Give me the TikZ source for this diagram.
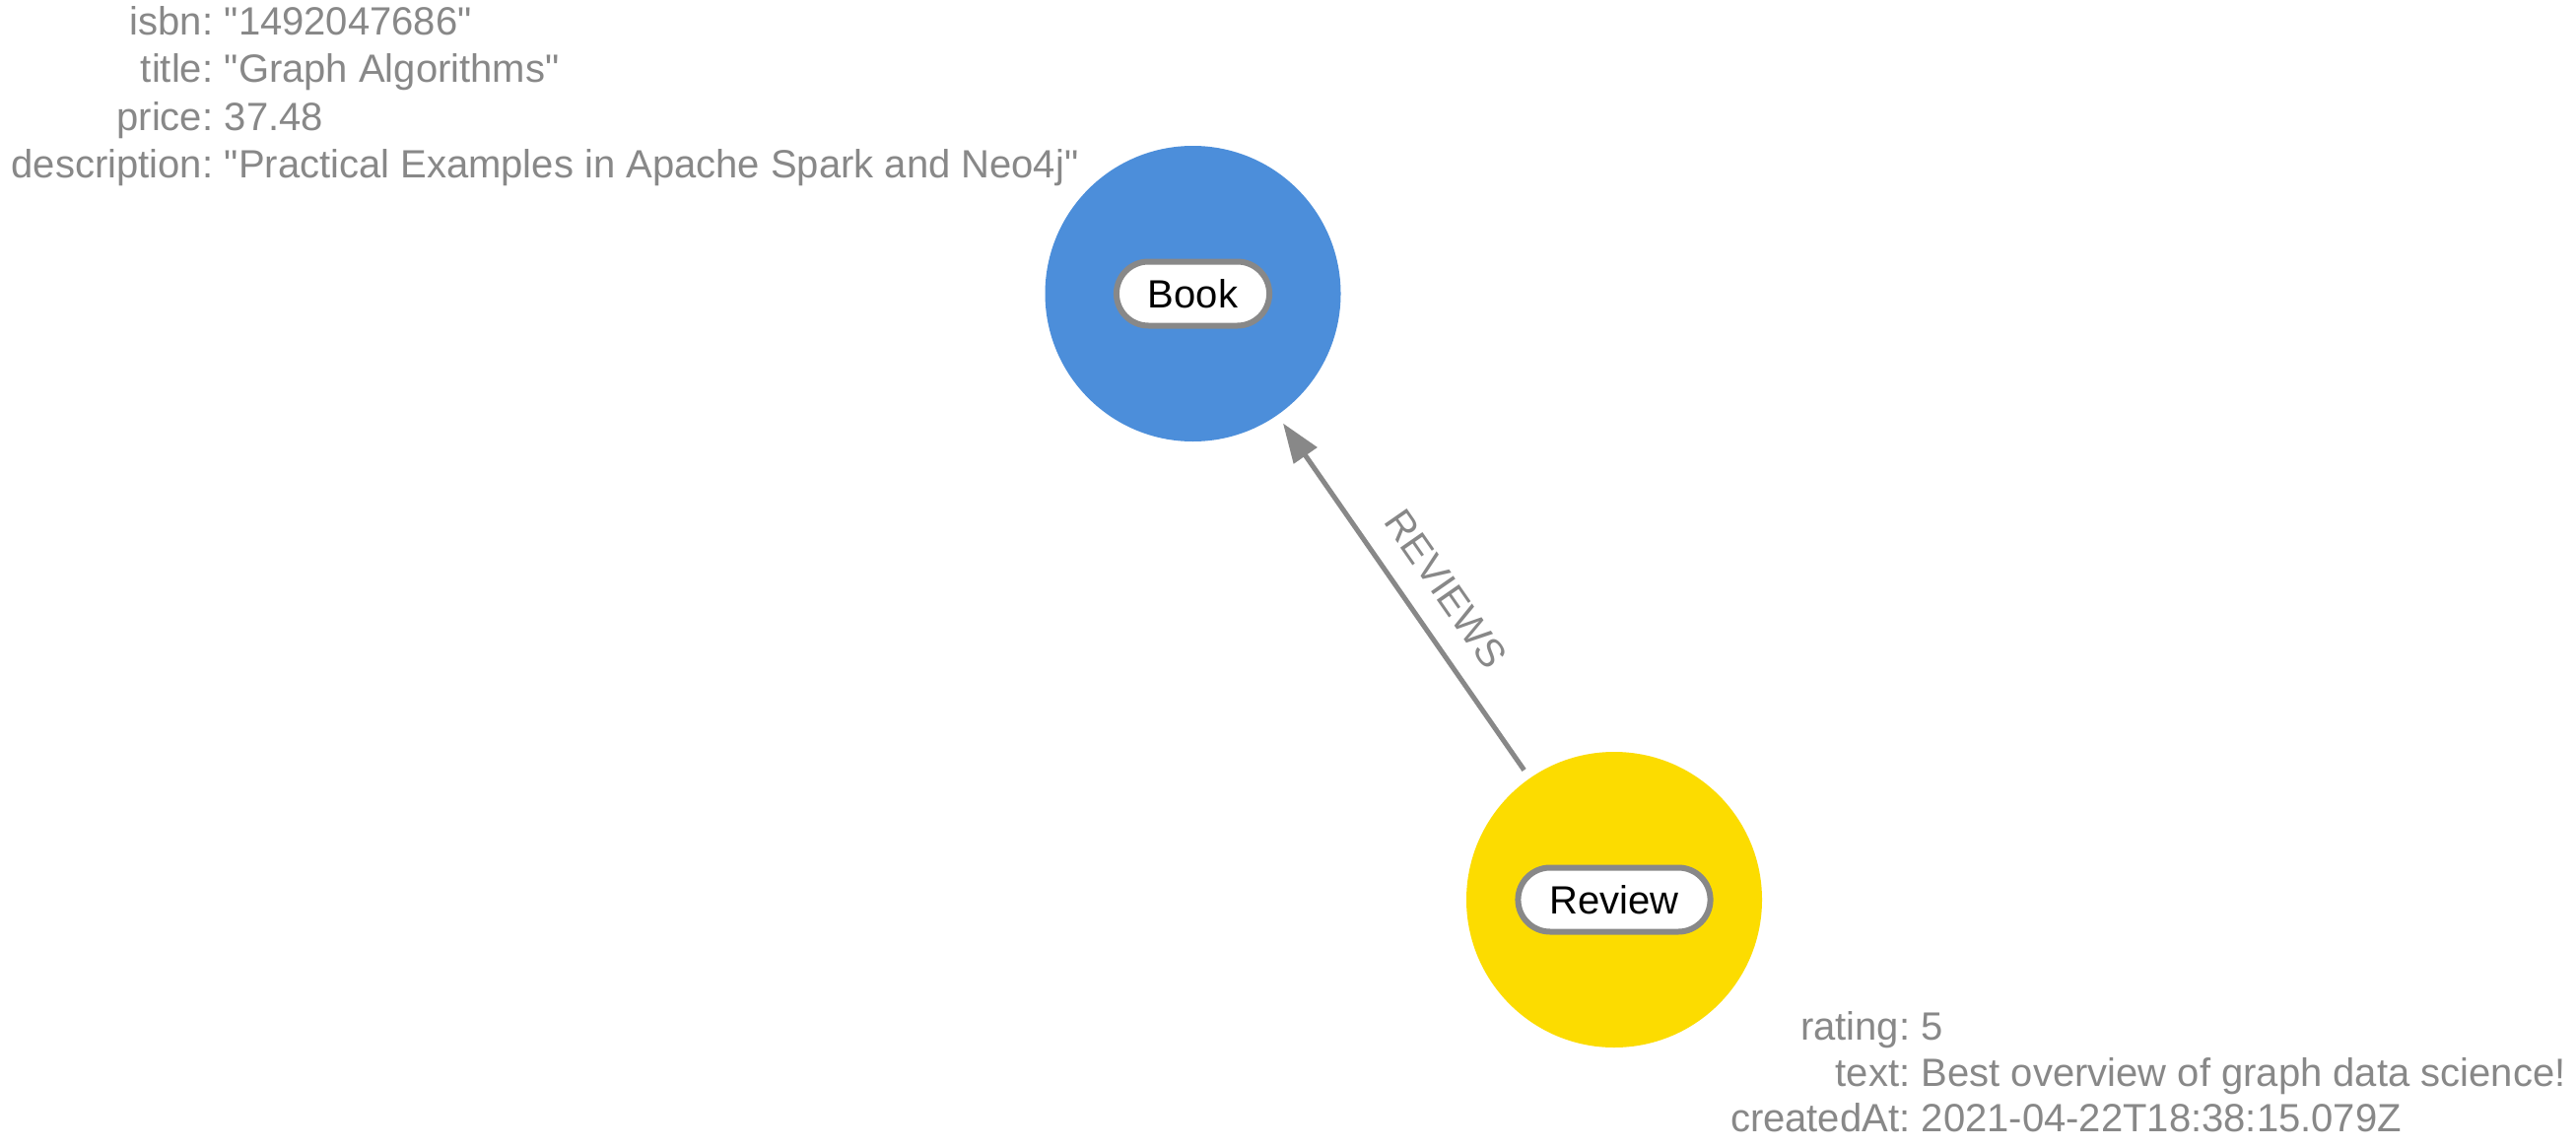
\documentclass[tikz,border=0pt]{standalone}
\usepackage{fontspec}
\setmainfont{Liberation Sans}
\usetikzlibrary{arrows.meta}
\definecolor{nblue}{HTML}{4C8EDA}
\definecolor{nyellow}{HTML}{FCDC00}
\definecolor{ngray}{HTML}{888888}
\newcommand{\dq}{\textquotedbl}
\begin{document}
\begin{tikzpicture}[x=1pt,y=-1pt,
  every node/.style={font=\fontsize{40}{48}\selectfont, inner sep=0pt},
  circ/.style={circle, minimum size=300pt, inner sep=0pt},
  pill/.style={draw=ngray, line width=6pt, fill=white, rounded corners=32.5pt,
    minimum height=65pt, inner xsep=32pt, text height=28.6pt, text depth=0pt, text=black},
  key/.style={text=ngray, anchor=base east},
  val/.style={text=ngray, anchor=base west},
  rel/.style={draw=ngray, line width=5pt, -{Triangle[length=40pt,width=28pt]},
    shorten <=10pt, shorten >=10pt},
  rellabel/.style={text=ngray, sloped, text height=28.6pt, text depth=0pt}]
\useasboundingbox (0,0) rectangle (2614,1164);
\fill[white] (0,0) rectangle (2614,1164);

% nodes
\node[circ, fill=nblue] (book) at (1210.5,298) {};
\node[circ, fill=nyellow] (review) at (1638,913) {};
\node[pill] (bookp) at (book.center) {Book};
\node[pill] (reviewp) at (review.center) {Review};

% relationship
\draw[rel] (review) -- node[rellabel, pos=0.46, above=23.7pt] (rl) {REVIEWS} (book);

% book properties
\node[key] (k1) at (216.5,36) {isbn:};
\node[val] (v1) at (227.6,36) {\dq 1492047686\dq};
\node[key] (k2) at (216.5,84) {title:};
\node[val] (v2) at (227.6,84) {\dq Graph Algorithms\dq};
\node[key] (k3) at (216.5,132) {price:};
\node[val] (v3) at (227.6,132) {37.48};
\node[key] (k4) at (216.5,180) {description:};
\node[val] (v4) at (227.6,180) {\dq Practical Examples in Apache Spark and Neo4j\dq};

% review properties
\node[key] (r1) at (1938.5,1055) {rating:};
\node[val] (s1) at (1949.6,1055) {5};
\node[key] (r2) at (1938.5,1102) {text:};
\node[val] (s2) at (1949.6,1102) {Best overview of graph data science!};
\node[key] (r3) at (1938.5,1148) {createdAt:};
\node[val] (s3) at (1949.6,1148) {2021-04-22T18:38:15.079Z};
\end{tikzpicture}
\end{document}
